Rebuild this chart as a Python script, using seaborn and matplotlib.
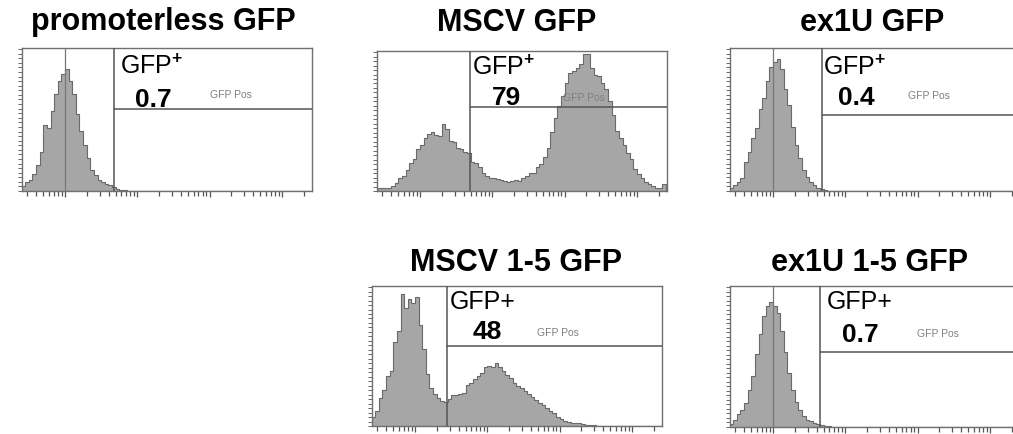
import numpy as np
import pandas as pd
import matplotlib
matplotlib.use("Agg")
import matplotlib.pyplot as plt
from matplotlib.ticker import MultipleLocator, LogLocator, NullFormatter
import seaborn as sns

sns.set_style("white")
plt.rcParams['font.family'] = ['Liberation Sans', 'DejaVu Sans']
plt.rcParams['mathtext.fontset'] = 'custom'
plt.rcParams['mathtext.rm'] = 'Liberation Sans'
plt.rcParams['mathtext.bf'] = 'Liberation Sans:bold'

# ---- data: histogram heights (% of axis height) in log10 bins of 0.05, starting at 10^1.4 ----
BIN_START = 1.4
BIN_WIDTH = 0.05
N_BINS = 80

titles = ["promoterless GFP", "MSCV GFP", "ex1U GFP", "MSCV 1-5 GFP", "ex1U 1-5 GFP"]
gate_labels = ["GFP$^{\\mathbf{+}}$", "GFP$^{\\mathbf{+}}$", "GFP$^{\\mathbf{+}}$", "GFP+", "GFP+"]
percent_positive = ["0.7", "79", "0.4", "48", "0.7"]
gate_x = [475, 490, 475, 276, 447]           # gate threshold (fluorescence)
gate_y = [57, 60, 53, 57, 53]                # height of horizontal gate line (% of axis)

promoterless = [3.6, 6, 8, 12, 18, 27, 46, 44, 56, 68, 77, 82, 85, 77, 68, 54, 42, 32,
                23, 15, 11, 8, 6, 5, 4, 2.5, 1.5, 1, 0.5]
mscv = [2, 2, 2, 2.4, 3.6, 6, 9.5, 11, 15, 20, 23, 30, 33, 38, 41, 42, 40, 39, 48, 44,
        36, 35, 31, 30, 28, 27, 21, 20, 17, 13, 11, 9.5, 9, 8.3, 8, 7, 6.7, 7, 7.6, 7.4,
        9.5, 11, 13, 13, 17, 19.5, 24, 31, 42, 52, 61, 68, 77, 84, 86, 88, 91, 98, 98, 88,
        83, 82, 77, 73, 64, 54, 43, 38, 33, 27, 23, 16, 12, 9, 6.7, 5.2, 3.8, 2.4, 2, 5]
ex1u = [2.4, 4, 6.4, 9, 20, 27, 37, 44, 57, 65, 77, 87, 90, 92, 85, 71, 60, 45, 32, 23,
        15, 10, 6, 4, 2.4, 1.2, 0.5]
mscv15 = [6.7, 10.8, 20, 26, 36, 39, 60, 68, 94, 84, 91, 88, 92, 72, 55, 37, 27, 23, 20,
          18, 17, 19, 22, 22.5, 23, 23.4, 29, 31, 33.5, 36, 38, 42, 42.6, 42, 45, 42, 39,
          36.6, 34, 31, 28.7, 27.5, 25, 22.7, 21, 18.7, 16.7, 15, 13, 10.8, 9, 6.7, 5.3,
          3.8, 2.9, 2.4, 2.2, 1.9, 1.4, 1, 0.7, 0.5, 0.3]
ex1u15 = [2.4, 5, 9, 12, 17, 26, 36, 52, 66, 79, 86, 89, 86, 81, 68, 53, 38, 26, 18, 12,
          8, 5, 4, 3, 2.4, 1.5, 1, 0.5]
series = [promoterless, mscv, ex1u, mscv15, ex1u15]
peak_marker = [True, False, True, False, True]

# ---- layout (pixel boxes: left, top, right, bottom) ----
W, H = 1013, 435
boxes = [(22, 49, 312, 192), (377, 52, 667, 192), (730, 49, 1020, 192),
         (372, 287, 662, 427), (730, 287, 1020, 428)]
title_pos = [(163, 22), (517, 23), (872, 23), (516, 263), (869, 263)]
label_pos = [(120, 67), (472, 68), (823, 68), (450, 302), (827, 302)]
num_pos = [(135, 100), (492, 98), (838, 98), (473, 332), (842, 335)]
pos_pos = [(210, 95), (563, 98), (908, 96), (537, 333), (917, 334)]

fig = plt.figure(figsize=(W / 100, H / 100), dpi=100)
fig.patch.set_facecolor('white')

fill_c = '#a6a6a6'
edge_c = '#6a6a6a'
frame_c = '#707070'

centers_log = BIN_START + BIN_WIDTH * (np.arange(N_BINS) + 0.5)
for k in range(5):
    l, t, r, b = boxes[k]
    ax = fig.add_axes([l / W, 1 - b / H, (r - l) / W, (b - t) / H])
    vals = np.zeros(N_BINS)
    vals[:len(series[k])] = series[k]
    df = pd.DataFrame({"fl": 10 ** centers_log, "h": vals})
    sns.histplot(data=df, x="fl", weights="h", log_scale=True,
                 binwidth=BIN_WIDTH, binrange=(BIN_START, BIN_START + BIN_WIDTH * N_BINS),
                 element="step", fill=True, color=fill_c, edgecolor=edge_c,
                 linewidth=0.8, alpha=1, ax=ax)
    ax.set_xlim(10 ** 1.405, 10 ** 5.415)
    ax.set_ylim(0, 100)
    ax.set_xlabel("")
    ax.set_ylabel("")
    for s in ax.spines.values():
        s.set_color(frame_c)
        s.set_linewidth(1.0)
    ax.xaxis.set_major_locator(LogLocator(base=10, numticks=10))
    ax.xaxis.set_minor_locator(LogLocator(base=10, subs=np.arange(2, 10), numticks=20))
    ax.xaxis.set_major_formatter(NullFormatter())
    ax.xaxis.set_minor_formatter(NullFormatter())
    ax.yaxis.set_major_locator(MultipleLocator(3.2))
    ax.tick_params(axis='x', which='major', direction='out', length=4, width=0.9,
                   color='#555555', bottom=True, labelbottom=False)
    ax.tick_params(axis='x', which='minor', direction='out', length=3.5, width=0.9,
                   color='#555555', bottom=True)
    ax.tick_params(axis='y', which='major', direction='out', length=3, width=0.7,
                   color='#666666', left=True, labelleft=False)
    # gate
    ax.axvline(gate_x[k], color='#555555', lw=1.1, zorder=5)
    ax.plot([gate_x[k], 10 ** 5.415], [gate_y[k], gate_y[k]], color='#555555',
            lw=1.1, zorder=5, clip_on=True)
    if peak_marker[k]:
        ax.axvline(100, color='#777777', lw=0.9, zorder=4)

    tx, ty = title_pos[k]
    fig.text(tx / W, 1 - ty / H, titles[k], ha='center', va='center',
             fontsize=22, fontweight='bold', color='black')
    lx, ly = label_pos[k]
    fig.text(lx / W, 1 - ly / H, gate_labels[k], ha='left', va='center',
             fontsize=18, color='black')
    nx, ny = num_pos[k]
    fig.text(nx / W, 1 - ny / H, percent_positive[k], ha='left', va='center',
             fontsize=19, fontweight='bold', color='black')
    px, py = pos_pos[k]
    fig.text(px / W, 1 - py / H, "GFP Pos", ha='left', va='center',
             fontsize=7.5, color='#808080', zorder=10)

fig.savefig("out.png", dpi=100, facecolor='white')
